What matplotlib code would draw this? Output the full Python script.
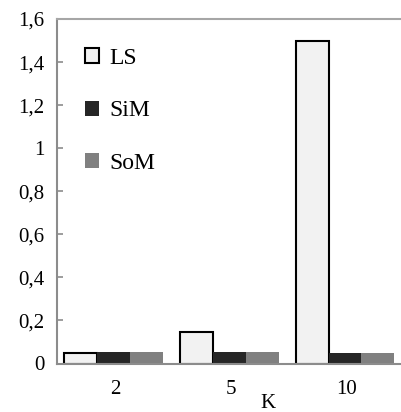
import numpy as np
import matplotlib
matplotlib.use("Agg")
import matplotlib.pyplot as plt
from matplotlib.ticker import FuncFormatter
from matplotlib.patches import Patch

categories = ["2", "5", "10"]
series = ["LS", "SiM", "SoM"]
ls_vals = [0.05, 0.145, 1.5]
sim_vals = [0.052, 0.052, 0.05]
som_vals = [0.052, 0.052, 0.05]
colors = ["#f2f2f2", "#262626", "#808080"]
edges = ["black", "#262626", "#808080"]

plt.rcParams["font.family"] = ["Liberation Serif", "DejaVu Serif"]
plt.rcParams["font.size"] = 15

fig = plt.figure(figsize=(4.01, 4.12), dpi=100)
ax = fig.add_axes([57 / 401, (412 - 363.5) / 412, (404 - 57) / 401, (363.5 - 19) / 412])

x = np.arange(len(categories))
w = 0.285
for i, (vals, c, e) in enumerate(zip([ls_vals, sim_vals, som_vals], colors, edges)):
    lw = 1.5 if i == 0 else 0
    ax.bar(x + (i - 1) * w - 0.01, vals, w, color=c, edgecolor=e, linewidth=lw, label=series[i])

ax.set_xlim(-0.5, 2.5)
ax.set_ylim(0, 1.6)
ax.set_yticks(np.arange(0, 1.61, 0.2))
ax.yaxis.set_major_formatter(FuncFormatter(lambda v, p: ("%g" % round(v, 1)).replace(".", ",")))
ax.set_xticks(x)
ax.set_xticklabels(categories)

for s in ["left", "bottom"]:
    ax.spines[s].set_color("#8c8c8c")
    ax.spines[s].set_linewidth(1.5)
ax.spines["top"].set_color("#a6a6a6")
ax.spines["top"].set_linewidth(1.5)
ax.spines["right"].set_visible(False)

ax.tick_params(axis="y", direction="in", length=4, color="#8c8c8c", width=1.2, pad=9)
ax.tick_params(axis="x", length=0, pad=12)

fig.text(268 / 401, 1 - 404 / 412, "K", ha="center", va="center", fontsize=15)

handles = [Patch(facecolor=c, edgecolor=("black" if i == 0 else c), linewidth=(1.5 if i == 0 else 0))
           for i, c in enumerate(colors)]
ax.legend(handles, series, loc="upper left", bbox_to_anchor=(0.08, 0.915), frameon=False,
          fontsize=17, borderpad=0, borderaxespad=0,
          handlelength=0.6, handleheight=0.6, handletextpad=0.45, labelspacing=1.32)

fig.savefig("out.png", dpi=100)
